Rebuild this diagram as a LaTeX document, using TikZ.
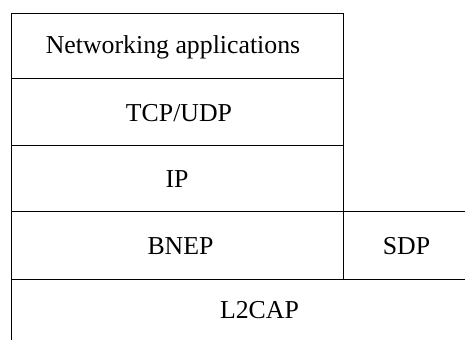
\documentclass[tikz,border=0pt]{standalone}
\usepackage{fontspec}
\setmainfont{Liberation Serif}
\usepackage{tikz}

\begin{document}
\begin{tikzpicture}[x=1pt,y=1pt,line width=1.000000pt,
  layer/.style={inner sep=0pt,font=\fontsize{25.800000}{31.000000}\selectfont}]
\useasboundingbox[fill=white] (0.000000, 0.000000) rectangle (465.000000, 340.000000);
% Drawing layer borders
% Upper stack: Networking applications, TCP/UDP, IP, BNEP
\draw[color=black] (343.000000,128.000000) -- (343.000000,326.500000) -- (11.500000,326.500000) -- (11.500000,0.000000);
\draw[color=black] (11.500000,261.000000) -- (343.000000,261.000000);
\draw[color=black] (11.500000,194.000000) -- (343.000000,194.000000);
% BNEP and SDP row
\draw[color=black] (11.500000,128.000000) -- (465.000000,128.000000);
\draw[color=black] (343.000000,128.000000) -- (343.000000,61.000000);
% L2CAP row
\draw[color=black] (11.500000,61.000000) -- (465.000000,61.000000);
% Done with borders; drawing labels
\node[layer] (netapps) at (173.000000, 293.000000) {Networking applications};
\node[layer] (tcpudp) at (179.000000, 227.000000) {TCP/UDP};
\node[layer] (ip) at (177.000000, 160.500000) {IP};
\node[layer] (bnep) at (180.500000, 94.000000) {BNEP};
\node[layer] (sdp) at (406.500000, 94.000000) {SDP};
\node[layer] (ltwocap) at (259.500000, 30.000000) {L2CAP};
% Done with labels
\end{tikzpicture}
\end{document}
